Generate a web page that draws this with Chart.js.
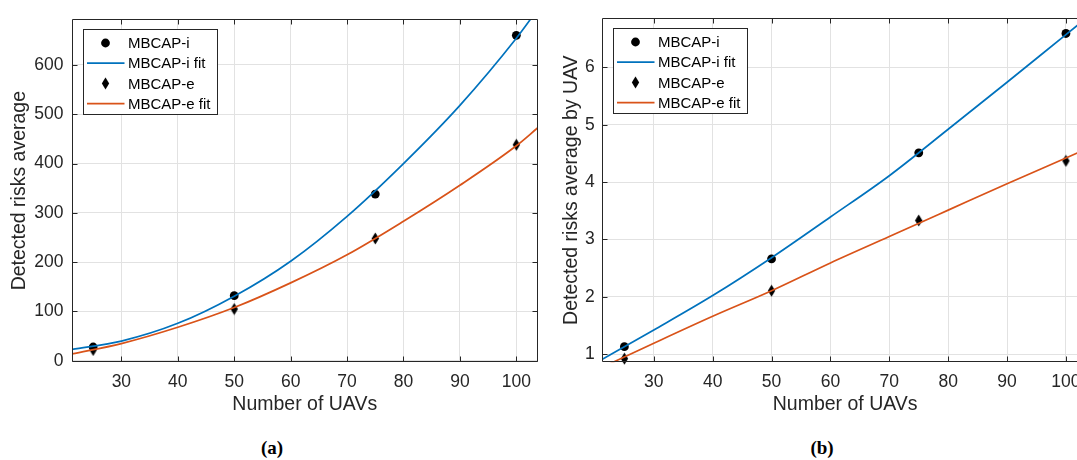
<!DOCTYPE html>
<html>
<head>
<meta charset="utf-8">
<script src="https://cdn.jsdelivr.net/npm/chart.js@4.4.1/dist/chart.umd.min.js"></script>
<style>
  html, body { margin: 0; padding: 0; background: #fff; }
  body { width: 1077px; height: 460px; position: relative; overflow: hidden; }
  .panel { position: absolute; top: 0; }
  #wrapA { left: 0; }
  #wrapB { left: 540px; }
  .caption {
    position: absolute;
    top: 437px;
    font: bold 19px "Liberation Serif", "DejaVu Serif", serif;
    color: #000;
    transform: translateX(-50%);
  }
</style>
</head>
<body>
<div class="panel" id="wrapA"><canvas id="chartA" width="545" height="430"></canvas></div>
<div class="panel" id="wrapB"><canvas id="chartB" width="560" height="430"></canvas></div>
<div class="caption" style="left:272px">(a)</div>
<div class="caption" style="left:822px">(b)</div>
<script>
// measured points
const UAVS = [25, 50, 75, 100];
const riskI = [28, 132, 338, 660];
const riskE = [22, 105, 248, 438];
const perUavI = [1.13, 2.66, 4.51, 6.59];
const perUavE = [0.92, 2.105, 3.33, 4.37];

// fitted curves
const FIT_X = [21.25, 30, 40, 50, 60, 70, 80, 90, 100, 103.75];
const riskFitI = [23, 40, 76, 131, 202, 293, 400, 518, 654, 712];
const riskFitE = [14, 35, 68, 108, 158, 215, 283, 356, 436, 472];
const perUavFitI = [0.91, 1.42, 2.02, 2.68, 3.39, 4.11, 4.92, 5.74, 6.57, 6.88];
const perUavFitE = [0.77, 1.19, 1.66, 2.105, 2.59, 3.05, 3.51, 3.97, 4.42, 4.59];

// tick labels
const X_TICKS = [30, 40, 50, 60, 70, 80, 90, 100];
const Y_TICKS_A = [0, 100, 200, 300, 400, 500, 600];
const Y_TICKS_B = [1, 2, 3, 4, 5, 6];

const LABELS = ['MBCAP-i', 'MBCAP-i fit', 'MBCAP-e', 'MBCAP-e fit'];

const AXIS_COLOR = '#262626';
const GRID_COLOR = '#e2e2e2';
const BLUE = '#0072BD';
const ORANGE = '#D95319';
const FONT = '"Liberation Sans", Arial, Helvetica, sans-serif';

const makeDiamond = () => {
  let c = document.createElement('canvas');
  c.width = 9;
  c.height = 13;
  let g = c.getContext('2d');
  g.fillStyle = '#000';
  g.beginPath();
  g.moveTo(4.5, 0.5);
  g.lineTo(8.2, 6.5);
  g.lineTo(4.5, 12.5);
  g.lineTo(0.8, 6.5);
  g.closePath();
  g.fill();
  return c;
};
const DIAMOND = makeDiamond();

const pointSet = (label, ys, style) => ({
  label: label,
  data: UAVS.map((x, i) => ({ x: x, y: ys[i] })),
  showLine: false,
  pointStyle: style,
  pointRadius: style === 'circle' ? 4.4 : 6,
  backgroundColor: '#000',
  borderColor: '#000',
  borderWidth: 0,
  order: 2,
  clip: false,
});

const fitSet = (label, ys, color) => ({
  label: label,
  data: FIT_X.map((x, i) => ({ x: x, y: ys[i] })),
  showLine: true,
  borderColor: color,
  borderWidth: 1.7,
  pointRadius: 0,
  cubicInterpolationMode: 'monotone',
  order: 1,
  clip: 0,
});

// axes box with inward ticks on all four sides
const frame = {
  id: 'frame',
  afterDatasetsDraw(chart) {
    const { ctx, chartArea: a, scales } = chart;
    const L = Math.round(a.left) + 0.5;
    const R = Math.round(a.right) - 0.5;
    const T = Math.round(a.top) + 0.5;
    const B = Math.round(a.bottom) - 0.5;
    ctx.save();
    ctx.strokeStyle = AXIS_COLOR;
    ctx.lineWidth = 1;
    ctx.beginPath();
    ctx.rect(L, T, R - L, B - T);
    scales.x.ticks.forEach((t) => {
      let px = Math.round(scales.x.getPixelForValue(t.value)) + 0.5;
      ctx.moveTo(px, B);
      ctx.lineTo(px, B - 5);
      ctx.moveTo(px, T);
      ctx.lineTo(px, T + 5);
    });
    scales.y.ticks.forEach((t) => {
      let py = Math.round(scales.y.getPixelForValue(t.value)) + 0.5;
      ctx.moveTo(L, py);
      ctx.lineTo(L + 5, py);
      ctx.moveTo(R, py);
      ctx.lineTo(R - 5, py);
    });
    ctx.stroke();
    ctx.restore();
  },
};

// MATLAB-style boxed legend in the upper left corner
const boxLegend = {
  id: 'boxLegend',
  afterDraw(chart) {
    const { ctx, chartArea } = chart;
    const x0 = Math.round(chartArea.left + 10.5) + 0.5;
    const y0 = Math.round(chartArea.top + 10) + 0.5;
    const w = 134;
    const h = 85;
    ctx.save();
    ctx.fillStyle = '#fff';
    ctx.fillRect(x0, y0, w, h);
    ctx.strokeStyle = AXIS_COLOR;
    ctx.lineWidth = 1;
    ctx.strokeRect(x0, y0, w, h);
    ctx.font = '15px ' + FONT;
    ctx.textBaseline = 'middle';
    chart.data.datasets.forEach((ds, i) => {
      let cy = y0 + 13.5 + i * 20.2;
      if (ds.showLine) {
        ctx.strokeStyle = ds.borderColor;
        ctx.lineWidth = ds.borderWidth;
        ctx.beginPath();
        ctx.moveTo(x0 + 3.5, cy);
        ctx.lineTo(x0 + 41, cy);
        ctx.stroke();
      } else {
        ctx.fillStyle = '#000';
        if (ds.pointStyle === 'circle') {
          ctx.beginPath();
          ctx.arc(x0 + 22, cy, ds.pointRadius, 0, Math.PI * 2);
          ctx.fill();
        } else {
          ctx.drawImage(ds.pointStyle, x0 + 22 - ds.pointStyle.width / 2, cy - ds.pointStyle.height / 2);
        }
      }
      ctx.fillStyle = '#000';
      ctx.fillText(ds.label, x0 + 44.5, cy + 1);
    });
    ctx.restore();
  },
};

const makeOptions = (cfg) => ({
  responsive: false,
  animation: false,
  devicePixelRatio: 1,
  events: [],
  layout: { padding: { top: 13.3, right: cfg.padRight, left: 0, bottom: 13.3 } },
  elements: { line: { capBezierPoints: false } },
  plugins: { legend: { display: false }, tooltip: { enabled: false } },
  scales: {
    x: {
      type: 'linear',
      min: 21.25,
      max: 103.75,
      afterBuildTicks: (s) => { s.ticks = X_TICKS.map((v) => ({ value: v })); },
      afterFit: (s) => { s.height = 54.4; },
      grid: { color: GRID_COLOR, drawTicks: false },
      border: { display: false },
      ticks: { color: AXIS_COLOR, padding: 9, maxRotation: 0, autoSkip: false, font: { family: FONT, size: 17.5 } },
      title: { display: true, text: 'Number of UAVs', color: AXIS_COLOR, padding: 0, font: { family: FONT, size: 19.5 } },
    },
    y: {
      type: 'linear',
      min: cfg.yMin,
      max: cfg.yMax,
      afterBuildTicks: (s) => { s.ticks = cfg.yTicks.map((v) => ({ value: v })); },
      afterFit: (s) => { s.width = cfg.yWidth; },
      grid: { color: GRID_COLOR, drawTicks: false },
      border: { display: false },
      ticks: { color: AXIS_COLOR, padding: cfg.tickPad, autoSkip: false, font: { family: FONT, size: 17.5 } },
      title: { display: true, text: cfg.yTitle, color: AXIS_COLOR, padding: { top: cfg.titlePad, bottom: 0 }, font: { family: FONT, size: 19.5 } },
    },
  },
});

new Chart(document.getElementById('chartA'), {
  type: 'scatter',
  data: {
    datasets: [
      pointSet(LABELS[0], riskI, 'circle'),
      fitSet(LABELS[1], riskFitI, BLUE),
      pointSet(LABELS[2], riskE, DIAMOND),
      fitSet(LABELS[3], riskFitE, ORANGE),
    ],
  },
  options: makeOptions({
    yMin: -3, yMax: 693, yTicks: Y_TICKS_A, yWidth: 72, tickPad: 8.5,
    yTitle: 'Detected risks average', titlePad: 8.3, padRight: 7.5,
  }),
  plugins: [frame, boxLegend],
});

new Chart(document.getElementById('chartB'), {
  type: 'scatter',
  data: {
    datasets: [
      pointSet(LABELS[0], perUavI, 'circle'),
      fitSet(LABELS[1], perUavFitI, BLUE),
      pointSet(LABELS[2], perUavE, DIAMOND),
      fitSet(LABELS[3], perUavFitE, ORANGE),
    ],
  },
  options: makeOptions({
    yMin: 0.857, yMax: 6.86, yTicks: Y_TICKS_B, yWidth: 62.3, tickPad: 7.5,
    yTitle: 'Detected risks average by UAV', titlePad: 20.3, padRight: 12,
  }),
  plugins: [frame, boxLegend],
});
</script>
</body>
</html>
